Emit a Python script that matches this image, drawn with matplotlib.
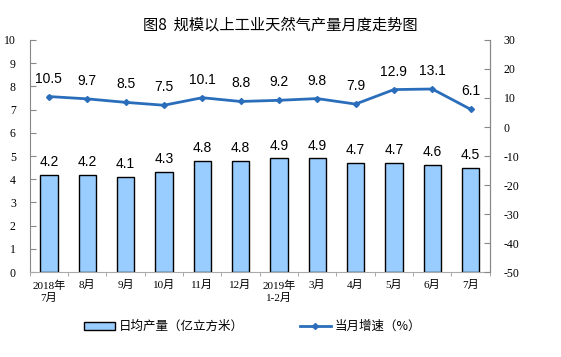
import numpy as np
import matplotlib.pyplot as plt

plt.rcParams['font.family'] = ['Liberation Serif', 'Noto Sans CJK SC']
plt.rcParams['axes.unicode_minus'] = False

months = ['2018年\n7月', '8月', '9月', '10月', '11月', '12月', '2019年\n1-2月',
          '3月', '4月', '5月', '6月', '7月']
output = [4.2, 4.2, 4.1, 4.3, 4.8, 4.8, 4.9, 4.9, 4.7, 4.7, 4.6, 4.5]
growth = [10.5, 9.7, 8.5, 7.5, 10.1, 8.8, 9.2, 9.8, 7.9, 12.9, 13.1, 6.1]

cjk = ['Noto Sans CJK SC', 'DejaVu Sans']
sans = ['Liberation Sans', 'Noto Sans CJK SC']

fig = plt.figure(figsize=(5.61, 3.57), dpi=100)
ax = fig.add_axes([0.053, 0.238, 0.82, 0.65])
x = np.arange(len(months))

ax.bar(x, output, width=0.45, color='#99CCFF', edgecolor='black', linewidth=1.0,
       label='日均产量（亿立方米）', zorder=2)
for xi, v in zip(x, output):
    ax.text(xi, v + 0.25, f'{v:.1f}', ha='center', va='bottom', fontsize=10, family=sans)

ax.set_xlim(-0.5, len(months) - 0.5)
ax.set_ylim(0, 10)
ax.set_yticks(range(0, 11))
ax.set_xticks(x)
ax.set_xticklabels(months, fontsize=8, linespacing=1.3)
ax.set_xticks(np.arange(-0.5, len(months), 1), minor=True)
ax.tick_params(axis='x', which='major', length=0, pad=6)
ax.tick_params(axis='x', which='minor', length=3, direction='out', color='#999999')
ax.tick_params(axis='y', direction='in', length=4, labelsize=8.5, pad=10, color='#888888')
for s in ['left', 'right']:
    ax.spines[s].set_color('#888888')
ax.spines['top'].set_visible(False)
ax.spines['bottom'].set_color('#aaaaaa')

ax2 = ax.twinx()
ax2.plot(x, growth, color='#2A6EBB', linewidth=2, marker='D', markersize=3,
         label='当月增速（%）', zorder=3)
for xi, v in zip(x, growth):
    ax2.text(xi, v + 3.8, f'{v:.1f}', ha='center', va='bottom', fontsize=10, family=sans)
ax2.set_ylim(-50, 30)
ax2.set_yticks(range(-50, 31, 10))
ax2.tick_params(axis='y', direction='in', length=4, labelsize=8.5, pad=10, color='#888888')
ax2.spines['top'].set_visible(False)
ax2.spines['right'].set_color('#888888')
ax2.spines['left'].set_visible(False)
ax2.spines['bottom'].set_visible(False)

fig.text(0.5, 0.93, '图8  规模以上工业天然气产量月度走势图', ha='center', va='center',
         fontsize=11, family=cjk)

h1, l1 = ax.get_legend_handles_labels()
h2, l2 = ax2.get_legend_handles_labels()
fig.legend(h1 + h2, l1 + l2, loc='center', bbox_to_anchor=(0.45, 0.085), ncol=2,
           frameon=False, prop={'family': cjk, 'size': 9}, columnspacing=4.5,
           handlelength=2.5, handleheight=0.6, handletextpad=0.3)

fig.savefig('out.png', dpi=100)
